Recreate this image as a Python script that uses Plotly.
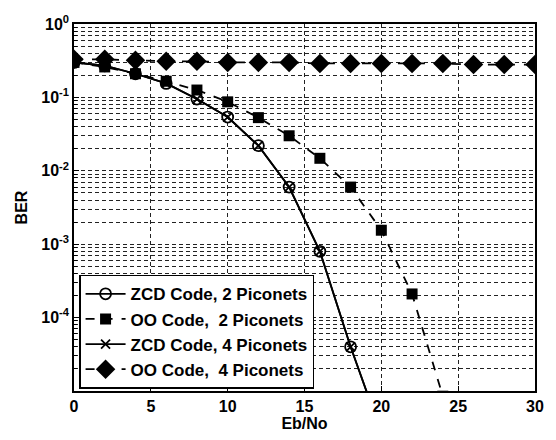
import plotly.graph_objects as go

x_vals = [0, 2, 4, 6, 8, 10, 12, 14, 16, 18, 20]
zcd2 = [0.30, 0.27, 0.21, 0.155, 0.095, 0.054, 0.022, 0.006, 0.0008, 0.00004, 0.0000027]
zcd4 = [0.30, 0.27, 0.21, 0.155, 0.095, 0.054, 0.022, 0.006, 0.0008, 0.00004, 0.0000027]
x_oo2 = [0, 2, 4, 6, 8, 10, 12, 14, 16, 18, 20, 22, 24]
oo2 = [0.30, 0.26, 0.21, 0.166, 0.126, 0.087, 0.053, 0.030, 0.0148, 0.006, 0.00155, 0.00021, 0.0000085]
x_oo4 = [0, 2, 4, 6, 8, 10, 12, 14, 16, 18, 20, 22, 24, 26, 28, 30]
oo4 = [0.33, 0.33, 0.32, 0.31, 0.31, 0.30, 0.30, 0.30, 0.29, 0.29, 0.29, 0.29, 0.29, 0.28, 0.28, 0.28]

y_tickvals = [1e-5, 1e-4, 1e-3, 1e-2, 1e-1, 1e0]
y_ticktext = ["", "10<sup>-4</sup>", "10<sup>-3</sup>", "10<sup>-2</sup>", "10<sup>-1</sup>", "10<sup>0</sup>"]
y_minor = [m * 10.0 ** e for e in range(-5, 0) for m in range(2, 10)]
x_tickvals = [0, 5, 10, 15, 20, 25, 30]

FAM = "Liberation Sans, Arial, sans-serif"
GRID_DASH = "4px,3px"

fig = go.Figure()
fig.add_trace(go.Scatter(x=x_vals, y=zcd2, name="ZCD Code, 2 Piconets", mode="lines+markers",
                         line=dict(color="black", width=1.8),
                         marker=dict(symbol="circle-open", size=11, color="black", line=dict(width=1.8))))
fig.add_trace(go.Scatter(x=x_oo2, y=oo2, name="OO Code,  2 Piconets", mode="lines+markers",
                         line=dict(color="black", width=1.8, dash="dash"),
                         marker=dict(symbol="square", size=11, color="black")))
fig.add_trace(go.Scatter(x=x_vals, y=zcd4, name="ZCD Code, 4 Piconets", mode="lines+markers",
                         line=dict(color="black", width=1.8),
                         marker=dict(symbol="x-thin-open", size=9, color="black", line=dict(width=1.8, color="black"))))
fig.add_trace(go.Scatter(x=x_oo4, y=oo4, name="OO Code,  4 Piconets", mode="lines+markers",
                         line=dict(color="black", width=1.8, dash="dash"),
                         marker=dict(symbol="diamond", size=15, color="black")))

fig.update_layout(
    width=556, height=440,
    margin=dict(l=74, r=13, t=24, b=44),
    paper_bgcolor="white", plot_bgcolor="white",
    font=dict(family=FAM, size=16, color="black"),
    showlegend=True,
    legend=dict(x=0.011, y=0.006, xanchor="left", yanchor="bottom",
                bgcolor="white", bordercolor="black", borderwidth=1.5,
                font=dict(family=FAM, size=17, color="black", weight="bold"),
                tracegroupgap=0, itemwidth=40),
    xaxis=dict(range=[0, 30], tickvals=x_tickvals, showgrid=True, gridcolor="#222",
               griddash=GRID_DASH, gridwidth=1, showline=True, linecolor="black", linewidth=1.5,
               mirror=True, ticks="inside", ticklen=5, tickcolor="black", zeroline=False,
               title=dict(text="Eb/No", standoff=2, font=dict(size=16, family=FAM, weight="bold")),
               tickfont=dict(size=16, family=FAM, weight="bold")),
    yaxis=dict(type="log", range=[-5, 0], tickvals=y_tickvals, ticktext=y_ticktext,
               showgrid=True, gridcolor="#222", griddash=GRID_DASH, gridwidth=1,
               showline=True, linecolor="black", linewidth=1.5, mirror=True,
               ticks="inside", ticklen=5, tickcolor="black", zeroline=False,
               minor=dict(tickmode="array", tickvals=y_minor, showgrid=True, gridcolor="#222",
                          griddash=GRID_DASH, gridwidth=1, ticks="inside", ticklen=3, tickcolor="black"),
               title=dict(text="BER", standoff=10, font=dict(size=16, family=FAM, weight="bold")),
               tickfont=dict(size=16, family=FAM, weight="bold")),
)

fig.write_html("out.html")
